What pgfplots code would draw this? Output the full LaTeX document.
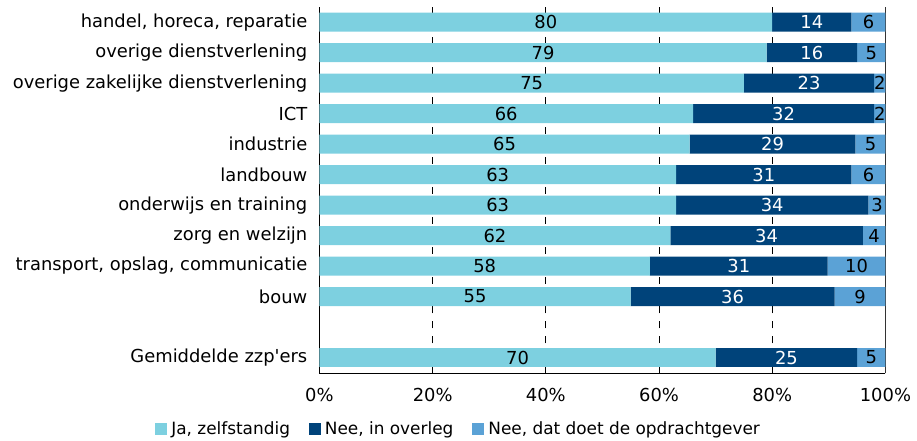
\documentclass[border=0pt]{standalone}
\usepackage{pgfplots}
\pgfplotsset{compat=1.18}
\usepackage{fontspec}
\setmainfont{DejaVu Sans}
\definecolor{cLight}{HTML}{7DD0E0}
\definecolor{cDark}{HTML}{00437A}
\definecolor{cMid}{HTML}{5BA2D6}
\begin{document}
\fontsize{18}{21}\selectfont
\begin{tikzpicture}
\begin{axis}[
  scale only axis,
  width=567bp, height=367bp,
  xbar stacked, bar width=19bp,
  xmin=0, xmax=100, ymin=-0.52, ymax=11.5,
  ytick={0,2,3,4,5,6,7,8,9,10,11},
  yticklabels={Gemiddelde zzp\textquotesingle ers, bouw, {transport, opslag, communicatie}, zorg en welzijn, onderwijs en training, landbouw, industrie, ICT, overige zakelijke dienstverlening, overige dienstverlening, {handel, horeca, reparatie}},
  xtick={0,20,40,60,80,100},
  xticklabel={\pgfmathprintnumber{\tick}\%},
  /pgf/number format/assume math mode=true,
  major tick length=0pt,
  xticklabel style={yshift=-9bp},
  yticklabel style={xshift=-6bp},
  xmajorgrids,
  grid style={black, line width=0.7bp, dash pattern=on 7bp off 8bp},
  axis x line*=bottom, axis y line*=left,
  axis line style={black, line width=1.6bp, -},
  clip=false,
  point meta=explicit symbolic,
  nodes near coords,
  every node near coord/.append style={anchor=center, font=\fontsize{18}{21}\selectfont},
  legend style={draw=none, at={(0.245,-0.153)}, anchor=center, legend columns=3, font=\fontsize{17}{20}\selectfont,
    nodes={inner sep=1bp},
    /tikz/every odd column/.append style={column sep=3bp},
    /tikz/every even column/.append style={column sep=18bp}},
  legend image code/.code={\fill[#1] (0bp,-6bp) rectangle (12bp,6bp);},
]
\addplot+[draw=none, fill=cLight, every node near coord/.append style={text=black}] coordinates {
 (70,0) [70] (55,2) [55] (58.4,3) [58] (62,4) [62] (63,5) [63] (63,6) [63] (65.4,7) [65] (66,8) [66] (75,9) [75] (79,10) [79] (80,11) [80]};
\addplot+[draw=none, fill=cDark, every node near coord/.append style={text=white}] coordinates {
 (25,0) [25] (36,2) [36] (31.4,3) [31] (34,4) [34] (34,5) [34] (31,6) [31] (29.3,7) [29] (32,8) [32] (23,9) [23] (16,10) [16] (14,11) [14]};
\addplot+[draw=none, fill=cMid, every node near coord/.append style={text=black}] coordinates {
 (5,0) [5] (9,2) [9] (10.2,3) [10] (4,4) [4] (3,5) [3] (6,6) [6] (5.3,7) [5] (2,8) [2] (2,9) [2] (5,10) [5] (6,11) [6]};
\legend{{Ja, zelfstandig}, {Nee, in overleg}, {Nee, dat doet de opdrachtgever}}
\draw[black!80, line width=1.2bp] (rel axis cs:1,0) -- (rel axis cs:1,1);
\path (rel axis cs:-0.5644,-0.1771) rectangle (rel axis cs:1.0529,1.0191);
\end{axis}
\end{tikzpicture}
\end{document}
